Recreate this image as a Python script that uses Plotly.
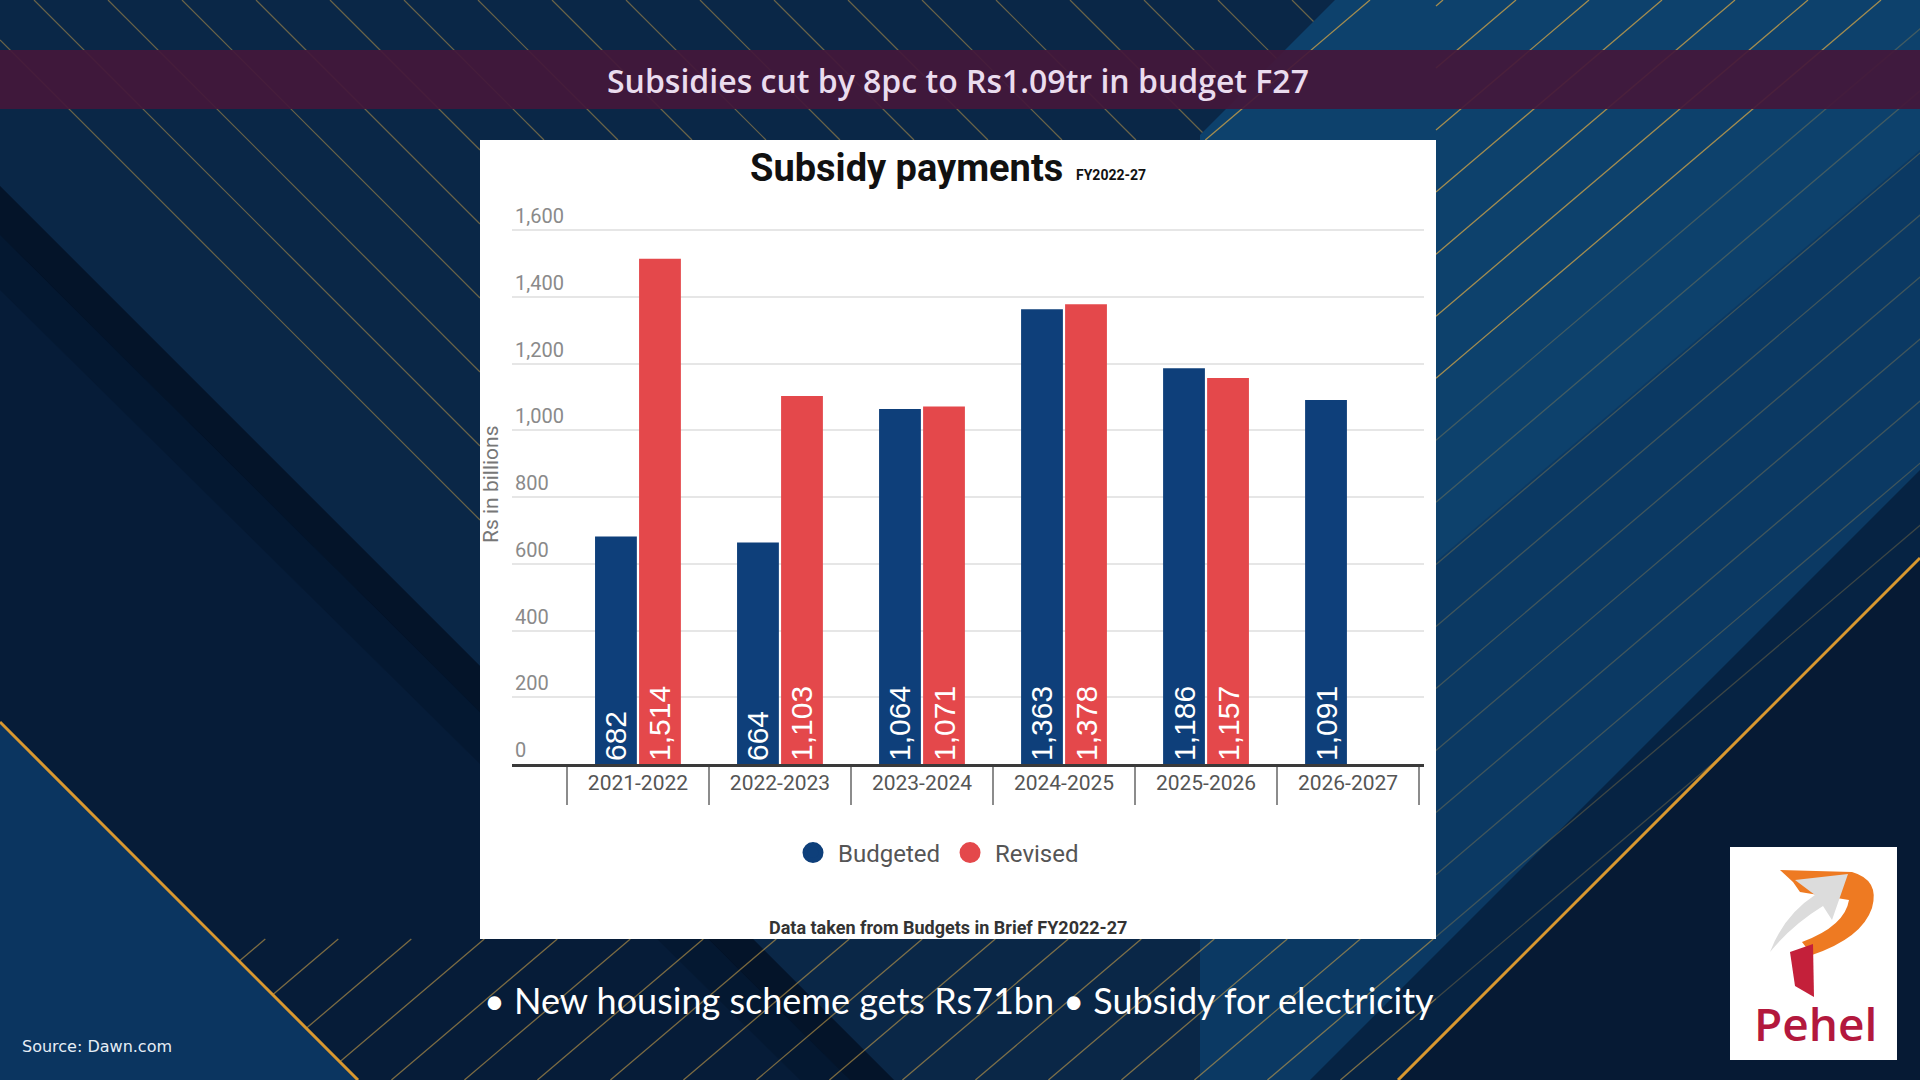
import plotly.graph_objects as go

# ---------------- data ----------------
categories = ["2021-2022", "2022-2023", "2023-2024", "2024-2025", "2025-2026", "2026-2027"]
budgeted = [682, 664, 1064, 1363, 1186, 1091]
revised = [1514, 1103, 1071, 1378, 1157, None]
y_ticks = [0, 200, 400, 600, 800, 1000, 1200, 1400, 1600]

banner_title = "Subsidies cut by 8pc to Rs1.09tr in budget F27"
chart_title = "Subsidy payments"
chart_subtitle = "FY2022-27"
y_title = "Rs in billions"
footer = "Data taken from Budgets in Brief FY2022-27"
bottom_text = "\u2022 New housing scheme gets Rs71bn \u2022 Subsidy for electricity"
source_text = "Source: Dawn.com"
logo_text = "Pehel"

BLUE = "#0e3f7a"
RED = "#e4484b"

# ---------------- layout geometry (pixels) ----------------
W, H = 1920, 1080
PL, PR, PT, PB = 512, 1424, 197, 764
PW, PH = PR - PL, PB - PT


def px(x):
    return (x - PL) / PW


def py(y):
    return (PB - y) / PH


shapes = []


def poly(points, color, opacity=1.0, layer="below"):
    d = "M " + " L ".join(f"{px(x):.5f},{py(y):.5f}" for x, y in points) + " Z"
    shapes.append(dict(type="path", xref="paper", yref="paper", path=d,
                       fillcolor=color, opacity=opacity, line=dict(width=0), layer=layer))


def seg(x0, y0, x1, y1, color, width=1.2, opacity=1.0):
    shapes.append(dict(type="line", xref="paper", yref="paper",
                       x0=px(x0), y0=py(y0), x1=px(x1), y1=py(y1),
                       line=dict(color=color, width=width), opacity=opacity, layer="below"))


GOLD = "#c9a04a"
# left dark band + shadow
poly([(0, 186), (894, 1080), (358, 1080), (0, 722)], "#061c38")
poly([(0, 186), (894, 1080), (850, 1080), (0, 235)], "#020c1a", 0.5)
poly([(0, 235), (850, 1080), (800, 1080), (0, 290)], "#020c1a", 0.22)

# top-left "\" lines (end at panel)
for c in range(-40, 1300, 74):
    if c < 0:
        x0, y0 = 0, -c
    else:
        x0, y0 = c, 0
    if 480 - c >= 140:
        x1, y1 = 480, 480 - c
    else:
        x1, y1 = 140 + c, 140
    seg(x0, y0, x1, y1, GOLD, 1.2, 0.5)

# right lighter region
poly([(1335, 0), (1920, 0), (1920, 558), (1398, 1080), (1200, 1080), (1200, 135)], "#0b3963")
poly([(1335, 0), (1920, 0), (1920, 150), (1200, 762), (1200, 135)], "#10507f", 0.35)
poly([(1920, 470), (1920, 558), (1398, 1080), (1310, 1080)], "#03122a", 0.55)

# "/" lines (slope 0.85)
S = 0.85
for i in range(0, 22):
    x0 = 1370 + 73 * i
    op_top = 0.8 if x0 <= 1950 else 0.28
    if x0 <= 1436:
        seg(x0, 0, x0 - 140 / S, 140, GOLD, 1.3, op_top)
    else:
        xb, yb = 1436, S * (x0 - 1436)
        if yb > 1080:
            yb, xb = 1080, x0 - 1080 / S
        seg(x0, 0, xb, yb, GOLD, 1.3, op_top)
    xa, ya = x0 - 939 / S, 939
    if xa > 1436:
        xa, ya = 1436, S * (x0 - 1436)
    if ya < 1080:
        seg(xa, ya, x0 - 1080 / S, 1080, GOLD, 1.3, 0.6)

# lower-left light region + gold line
poly([(0, 722), (358, 1080), (0, 1080)], "#0b3560")
seg(0, 722, 358, 1080, "#d9982f", 3, 1)
# lower-right dark region + gold line
poly([(1920, 558), (1920, 1080), (1398, 1080)], "#061a34")
seg(1920, 558, 1398, 1080, "#d9982f", 3, 1)

# banner
poly([(0, 50), (1920, 50), (1920, 109), (0, 109)], "#44183a", 0.93)

# white panel
poly([(480, 140), (1436, 140), (1436, 939), (480, 939)], "#ffffff")

# logo
poly([(1730, 847), (1897, 847), (1897, 1060), (1730, 1060)], "#ffffff")
shapes.append(dict(type="path", xref="paper", yref="paper", layer="above", line=dict(width=0),
                   fillcolor="#ee7a22",
                   path=(f"M {px(1780):.5f},{py(870):.5f} L {px(1852):.5f},{py(872):.5f} "
                         f"Q {px(1880):.5f},{py(880):.5f} {px(1872):.5f},{py(908):.5f} "
                         f"Q {px(1862):.5f},{py(938):.5f} {px(1812):.5f},{py(955):.5f} "
                         f"L {px(1802):.5f},{py(942):.5f} "
                         f"Q {px(1845):.5f},{py(926):.5f} {px(1849):.5f},{py(900):.5f} "
                         f"L {px(1800):.5f},{py(892):.5f} L {px(1793):.5f},{py(882):.5f} Z")))
shapes.append(dict(type="path", xref="paper", yref="paper", layer="above", line=dict(width=0),
                   fillcolor="#c4203a",
                   path=(f"M {px(1790):.5f},{py(952):.5f} L {px(1813):.5f},{py(944):.5f} "
                         f"L {px(1814):.5f},{py(997):.5f} L {px(1795):.5f},{py(986):.5f} Z")))
shapes.append(dict(type="path", xref="paper", yref="paper", layer="above", line=dict(width=0),
                   fillcolor="#dcdcdc",
                   path=(f"M {px(1795):.5f},{py(880):.5f} L {px(1848):.5f},{py(874):.5f} "
                         f"L {px(1832):.5f},{py(920):.5f} L {px(1823):.5f},{py(906):.5f} "
                         f"Q {px(1792):.5f},{py(925):.5f} {px(1770):.5f},{py(952):.5f} "
                         f"Q {px(1784):.5f},{py(915):.5f} {px(1815):.5f},{py(895):.5f} Z")))

# ---------------- traces ----------------
fig = go.Figure()
label_font = dict(color="white", size=30, family="Liberation Sans")
fig.add_trace(go.Bar(x=categories, y=budgeted, name="Budgeted", marker=dict(color=BLUE, line=dict(width=0)),
                     texttemplate="%{y:,}", textposition="inside", insidetextanchor="start",
                     textangle=-90, insidetextfont=label_font, showlegend=False, hoverinfo="skip"))
fig.add_trace(go.Bar(x=categories, y=revised, name="Revised", marker=dict(color=RED, line=dict(width=0)),
                     texttemplate="%{y:,}", textposition="inside", insidetextanchor="start",
                     textangle=-90, insidetextfont=label_font, showlegend=False, hoverinfo="skip"))
for nm, col in [("Budgeted", BLUE), ("Revised", RED)]:
    fig.add_trace(go.Scatter(x=[None], y=[None], mode="markers", name=nm,
                             marker=dict(size=16, color=col, symbol="circle", line=dict(color=col, width=5))))


def ann(x, y, text, font, xanchor="center", **kw):
    return dict(x=px(x), y=py(y), xref="paper", yref="paper", text=text, showarrow=False,
                xanchor=xanchor, yanchor="middle", font=font, **kw)


annotations = [
    ann(958, 80, banner_title, dict(family="Open Sans", size=32, color="#eadcee", weight=600)),
    ann(906, 168, chart_title, dict(family="Roboto", size=38, color="#111111", weight=700)),
    ann(1074, 175, chart_subtitle, dict(family="Roboto", size=14, color="#111111", weight=700), xanchor="left"),
    ann(491, 484, y_title, dict(family="Roboto", size=21, color="#777777"), textangle=-90),
    ann(948, 927, footer, dict(family="Roboto", size=18, color="#333333", weight=700)),
    ann(959, 1000, bottom_text, dict(family="Lato", size=36, color="#ffffff")),
    ann(20, 1046, source_text, dict(family="DejaVu Sans", size=16, color="#e6edf5"), xanchor="left"),
    ann(1815, 1023, logo_text, dict(family="Open Sans", size=46, color="#b3183d", weight=600)),
]

fig.update_layout(
    width=W, height=H, autosize=False,
    margin=dict(l=PL, r=W - PR, t=PT, b=H - PB, pad=0),
    paper_bgcolor="#0a2747", plot_bgcolor="rgba(0,0,0,0)",
    barmode="group", bargap=0.38, bargroupgap=0.05,
    shapes=shapes, annotations=annotations,
    showlegend=True,
    legend=dict(orientation="h", x=px(936), xanchor="center", y=py(853), yanchor="middle",
                font=dict(family="Roboto", size=24, color="#555555"), bgcolor="rgba(0,0,0,0)",
                itemwidth=40),
    xaxis=dict(type="category", range=[-0.887, 5.535], tickson="boundaries", ticks="outside",
               ticklen=38, tickwidth=2, tickcolor="#8c8c8c", showline=True, linecolor="#3a3a3a",
               linewidth=3, showgrid=False, ticklabelstandoff=-2,
               tickfont=dict(family="Roboto", size=21, color="#555555")),
    yaxis=dict(range=[0, 1699], tickvals=y_ticks, tickformat=",", ticklabelposition="inside top",
               showgrid=True, gridcolor="#e6e6e6", gridwidth=1.5, zeroline=False, showline=False,
               ticks="", tickfont=dict(family="Roboto", size=20, color="#8a8a8a")),
)

fig.write_html("out.html", config={"displayModeBar": False},
               post_script="document.body.style.margin='0';document.body.style.overflow='hidden';")
